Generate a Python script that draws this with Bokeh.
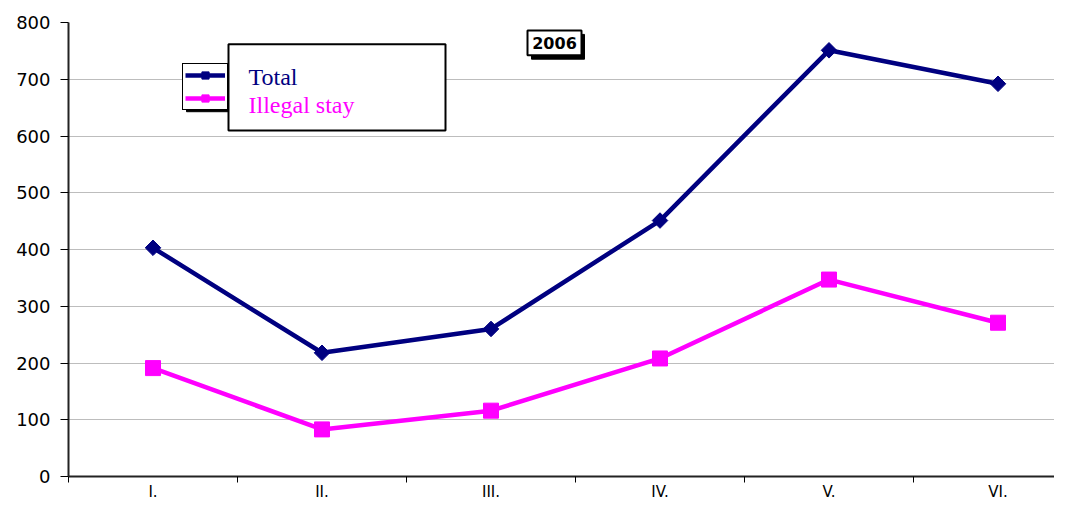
from bokeh.plotting import figure
from bokeh.models import (Range1d, FixedTicker, Legend, LegendItem, BoxAnnotation, Label)
from bokeh.embed import file_html
from bokeh.resources import INLINE

categories = ["I.", "II.", "III.", "IV.", "V.", "VI."]
total = [403, 218, 260, 451, 751, 692]
illegal_stay = [191, 83, 116, 208, 347, 271]
y_ticks = [0, 100, 200, 300, 400, 500, 600, 700, 800]

xs = list(range(1, len(categories) + 1))

W, H_FIG = 1054, 503
LEFT, TOP, BOTTOM = 68, 22, 23
FH = H_FIG - TOP - BOTTOM          # frame height in px
FW = W - LEFT                      # frame width in px
STEP = 169                         # px per category


def dx(px):
    return 0.5 + (px - LEFT) / STEP


def dy(py):
    return 800 * (1 - (py - TOP) / FH)


p = figure(width=W, height=H_FIG, output_backend="svg", toolbar_location=None,
           x_range=Range1d(0.5, 0.5 + FW / STEP), y_range=Range1d(0, 800),
           min_border_left=LEFT, min_border_right=0, min_border_top=TOP, min_border_bottom=BOTTOM)
p.outline_line_color = None
p.background_fill_color = "white"

# axes
p.xaxis.ticker = FixedTicker(ticks=xs, minor_ticks=[x + 0.5 for x in range(0, 7)])
p.xaxis.major_label_overrides = {i + 1: c for i, c in enumerate(categories)}
p.xaxis.major_tick_line_color = None
p.xaxis.major_tick_out = 5
p.xaxis.major_tick_in = 0
p.xaxis.minor_tick_line_color = "black"
p.xaxis.minor_tick_out = 6
p.xaxis.minor_tick_in = 0
p.xaxis.axis_line_color = "#222222"
p.xaxis.axis_line_width = 2
p.xaxis.major_label_text_font = "DejaVu Sans"
p.xaxis.major_label_text_font_size = "15px"
p.xaxis.major_label_text_color = "black"
p.xaxis.major_label_standoff = 0

p.yaxis.ticker = FixedTicker(ticks=y_ticks)
p.yaxis.minor_tick_line_color = None
p.yaxis.major_tick_out = 8
p.yaxis.major_tick_in = 0
p.yaxis.major_tick_line_color = "black"
p.yaxis.axis_line_color = "#222222"
p.yaxis.axis_line_width = 2
p.yaxis.major_label_text_font = "DejaVu Sans"
p.yaxis.major_label_text_font_size = "18px"
p.yaxis.major_label_text_color = "black"
p.yaxis.major_label_standoff = 10

p.xgrid.grid_line_color = None
p.ygrid.grid_line_color = "#bdbdbd"
p.ygrid.grid_line_width = 1

# series
l1 = p.line(xs, total, line_color="#000080", line_width=4.5)
m1 = p.scatter(xs, total, marker="square", angle=0.785398, size=11,
               fill_color="#000080", line_color="#000080")
l2 = p.line(xs, illegal_stay, line_color="#FF00FF", line_width=4.5)
m2 = p.scatter(xs, illegal_stay, marker="square", size=15,
               fill_color="#FF00FF", line_color="#FF00FF")

# legend shadow
p.add_layout(BoxAnnotation(left=dx(186), right=dx(232), top=dy(67), bottom=dy(112),
                           fill_color="black", fill_alpha=1, line_color="black", line_alpha=1))

legend = Legend(items=[LegendItem(label=" ", renderers=[l1, m1]),
                       LegendItem(label=" ", renderers=[l2, m2])],
                location=(182 - LEFT, FH - (109 - TOP) - 5), orientation="vertical",
                glyph_width=40, glyph_height=18, spacing=5, padding=2, margin=0,
                label_text_font_size="1px", label_standoff=0,
                label_width=0, label_height=0,
                border_line_color="black", border_line_width=1, border_line_alpha=1,
                background_fill_color="white", background_fill_alpha=1)
p.add_layout(legend)

p.add_layout(BoxAnnotation(left=dx(228), right=dx(445), top=dy(44), bottom=dy(131),
                           fill_color="white", fill_alpha=1, line_color="black", line_alpha=1,
                           line_width=2, level="overlay"))

p.add_layout(Label(x=dx(248), y=dy(77), text="Total", level="overlay",
                   text_font="Liberation Serif", text_font_size="24px", text_color="#000080",
                   text_baseline="alphabetic"))
p.add_layout(Label(x=dx(248), y=dy(105), text="Illegal stay", level="overlay",
                   text_font="Liberation Serif", text_font_size="24px", text_color="#FF00FF",
                   text_baseline="alphabetic"))

# 2006 title box with shadow
p.add_layout(BoxAnnotation(left=dx(531), right=dx(584), top=dy(34), bottom=dy(59),
                           fill_color="black", fill_alpha=1, line_color="black", line_alpha=1,
                           level="overlay"))
p.add_layout(BoxAnnotation(left=dx(527), right=dx(581), top=dy(30), bottom=dy(55),
                           fill_color="white", fill_alpha=1, line_color="black", line_alpha=1,
                           line_width=2, level="overlay"))
p.add_layout(Label(x=dx(554), y=dy(43), text="2006", level="overlay",
                   text_font="DejaVu Sans", text_font_style="bold", text_font_size="16px",
                   text_color="black", text_align="center", text_baseline="middle"))

open("out.html", "w").write(file_html(p, INLINE))
